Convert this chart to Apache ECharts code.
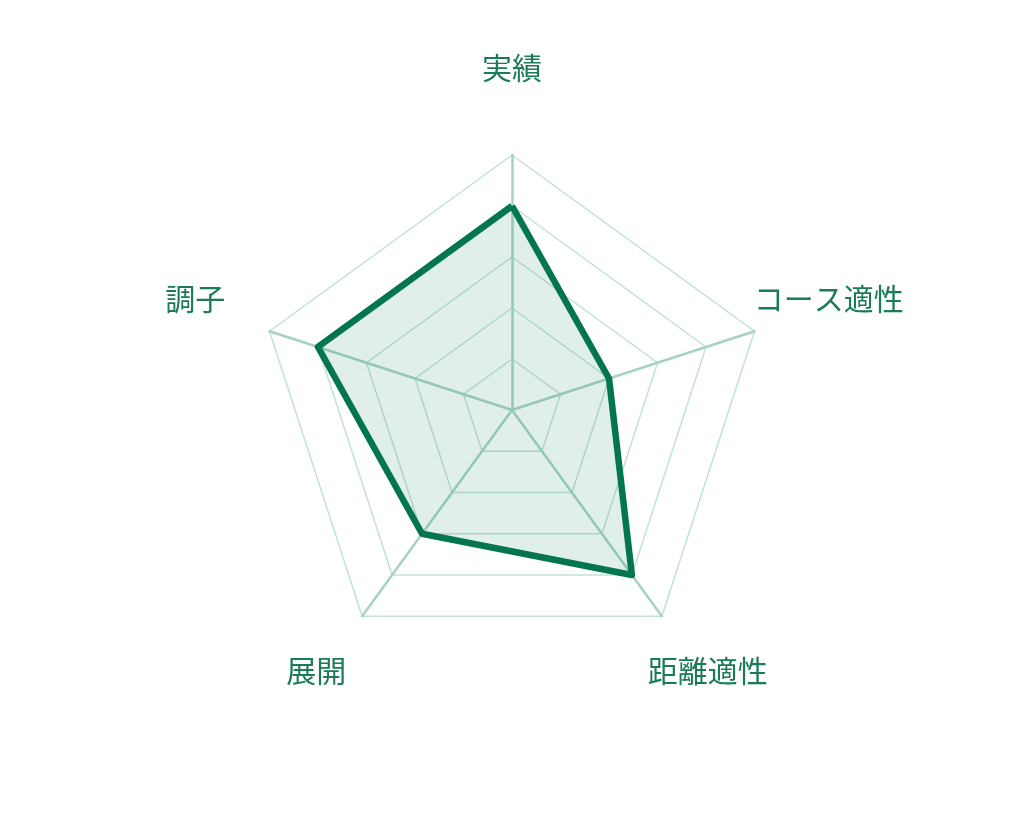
<!DOCTYPE html>
<html>
<head>
<meta charset="utf-8">
<script src="https://cdn.jsdelivr.net/npm/echarts@6/dist/echarts.min.js"></script>
<style>
html,body{margin:0;padding:0;background:#fff;}
#chart{width:1024px;height:820px;}
</style>
</head>
<body>
<div id="chart"></div>
<script>
// indicators listed in ECharts drawing order (counter-clockwise from top)
const indicators = ['実績', '調子', '展開', '距離適性', 'コース適性'];
const maxValues = [5, 5, 5, 5, 5];
const values = [4, 4, 3, 4, 2];

const chart = echarts.init(document.getElementById('chart'));
chart.setOption({
  backgroundColor: '#ffffff',
  radar: {
    center: [512, 410],
    radius: 255,
    startAngle: 90,
    shape: 'polygon',
    splitNumber: 5,
    nameGap: 78,
    indicator: indicators.map((n, i) => ({ name: n, max: maxValues[i], min: 0 })),
    axisName: {
      color: '#1b7b57',
      fontSize: 30,
      fontFamily: '"Noto Sans CJK JP", sans-serif',
      align: 'center',
      verticalAlign: 'middle',
      formatter: (name) => '{a|' + name + '}',
      rich: {
        a: {
          color: '#1b7b57',
          fontSize: 30,
          fontFamily: '"Noto Sans CJK JP", sans-serif',
          padding: [0, 0, 18, 0]
        }
      }
    },
    axisLine: { lineStyle: { color: '#a6d3c1', width: 2.5 } },
    splitLine: { lineStyle: { color: '#c3e2d6', width: 1.5 } },
    splitArea: { show: false }
  },
  series: [{
    type: 'radar',
    symbol: 'none',
    data: [{
      value: values,
      lineStyle: { color: '#037450', width: 6.5 },
      areaStyle: { color: 'rgba(26,138,96,0.19)' }
    }]
  }]
});
</script>
</body>
</html>
